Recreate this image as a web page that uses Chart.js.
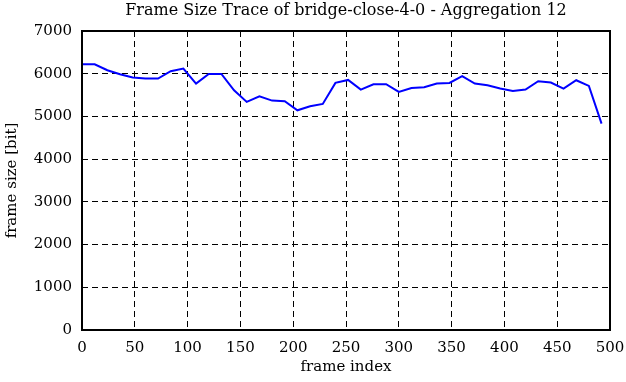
<!DOCTYPE html>
<html>
<head>
<meta charset="utf-8">
<script src="https://cdn.jsdelivr.net/npm/chart.js@4"></script>
<style>
  html, body { margin: 0; padding: 0; background: #fff; }
  #wrap { width: 626px; height: 382px; }
</style>
</head>
<body>
<div id="wrap"><canvas id="trace" width="626" height="382"></canvas></div>
<script>
// Data (one point every 12 frames)
const frameIdx = [0, 12, 24, 36, 48, 60, 72, 84, 96, 108, 120, 132, 144, 156, 168, 180, 192, 204, 216, 228,
  240, 252, 264, 276, 288, 300, 312, 324, 336, 348, 360, 372, 384, 396, 408, 420, 432, 444, 456, 468, 480, 492];
const frameSize = [6222, 6222, 6082, 5988, 5910, 5887, 5887, 6058, 6121, 5770, 5996, 5996, 5613, 5340, 5472,
  5371, 5355, 5144, 5238, 5292, 5785, 5855, 5629, 5753, 5753, 5573, 5667, 5683, 5770, 5785, 5941, 5770, 5730,
  5652, 5597, 5629, 5824, 5793, 5652, 5847, 5714, 4832];
const xTicks = [0, 50, 100, 150, 200, 250, 300, 350, 400, 450, 500];
const yTicks = [0, 1000, 2000, 3000, 4000, 5000, 6000, 7000];
const titleText = 'Frame Size Trace of bridge-close-4-0 - Aggregation 12';

const FONT = '"DejaVu Serif", "Liberation Serif", serif';

// frame around the plot area + title centred over it (gnuplot style)
const frameAndTitle = {
  id: 'frameAndTitle',
  afterDraw(chart) {
    const { ctx, chartArea: a } = chart;
    ctx.save();
    ctx.strokeStyle = '#000';
    ctx.lineWidth = 2;
    ctx.strokeRect(a.left, a.top, a.right - a.left, a.bottom - a.top);
    ctx.fillStyle = '#000';
    ctx.font = '16px ' + FONT;
    ctx.textAlign = 'center';
    ctx.textBaseline = 'alphabetic';
    ctx.fillText(titleText, (a.left + a.right) / 2, 15);
    ctx.restore();
  }
};

new Chart(document.getElementById('trace'), {
  type: 'line',
  data: {
    datasets: [{
      data: frameIdx.map((x, i) => ({ x, y: frameSize[i] })),
      borderColor: '#0000ff',
      borderWidth: 2,
      pointRadius: 0,
      tension: 0,
      fill: false
    }]
  },
  options: {
    responsive: false,
    animation: false,
    layout: { padding: { left: 0, right: 16, top: 31, bottom: 0 } },
    plugins: {
      legend: { display: false },
      tooltip: { enabled: false },
      title: { display: false }
    },
    scales: {
      x: {
        type: 'linear',
        min: 0,
        max: 500,
        afterBuildTicks: s => { s.ticks = xTicks.map(v => ({ value: v })); },
        afterFit: s => { s.height = 52; s.paddingLeft = 0; s.paddingRight = 0; },
        ticks: { color: '#000', font: { family: FONT, size: 15 }, padding: 9, maxRotation: 0 },
        grid: { color: '#000', lineWidth: 1, drawTicks: false },
        border: { display: false, dash: [6, 4] },
        title: { display: true, text: 'frame index', color: '#000', font: { family: FONT, size: 15 }, padding: { top: 0, bottom: 6 } }
      },
      y: {
        min: 0,
        max: 7000,
        afterBuildTicks: s => { s.ticks = yTicks.map(v => ({ value: v })); },
        afterFit: s => { s.width = 82; s.paddingTop = 0; s.paddingBottom = 0; },
        ticks: { color: '#000', font: { family: FONT, size: 15 }, padding: 10, callback: v => String(v) },
        grid: { color: '#000', lineWidth: 1, drawTicks: false },
        border: { display: false, dash: [6, 4] },
        title: { display: true, text: 'frame size [bit]', color: '#000', font: { family: FONT, size: 15 }, padding: { top: 3, bottom: 0 } }
      }
    }
  },
  plugins: [frameAndTitle]
});
</script>
</body>
</html>
